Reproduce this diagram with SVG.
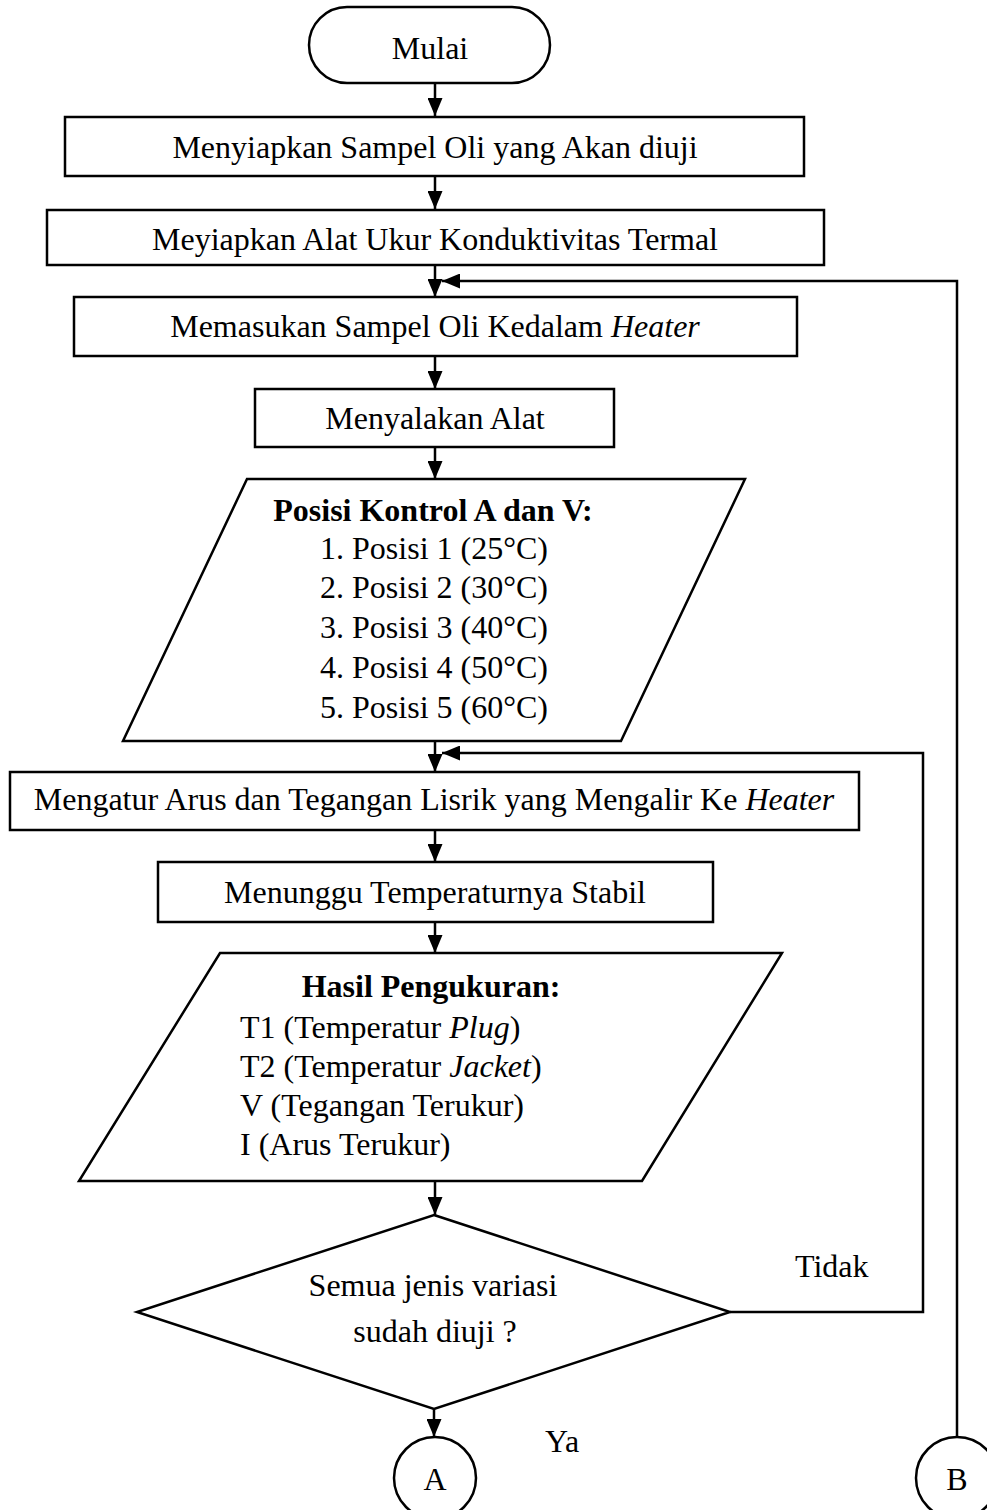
<svg xmlns="http://www.w3.org/2000/svg" width="987" height="1510" viewBox="0 0 987 1510">
<defs>
<style>
.s{fill:#fff;stroke:#000;stroke-width:2.5}
.c{fill:none;stroke:#000;stroke-width:2.5}
text{font-family:"Liberation Serif","Times New Roman",serif;font-size:32px;fill:#000}
.m{text-anchor:middle}
.b{font-weight:bold}
.i{font-style:italic}
</style>
<marker id="ah" viewBox="0 0 18 15" refX="18" refY="7.5" markerWidth="18" markerHeight="15" markerUnits="userSpaceOnUse" orient="auto">
<path d="M0,0 L18,7.5 L0,15 z" fill="#000"/>
</marker>
</defs>
<rect width="987" height="1510" fill="#fff"/>
<g id="connectors">
<line class="c" x1="435" y1="83" x2="435" y2="116" marker-end="url(#ah)"/>
<line class="c" x1="435" y1="176" x2="435" y2="209" marker-end="url(#ah)"/>
<line class="c" x1="435" y1="265" x2="435" y2="297" marker-end="url(#ah)"/>
<line class="c" x1="435" y1="356" x2="435" y2="389" marker-end="url(#ah)"/>
<line class="c" x1="435" y1="447" x2="435" y2="479" marker-end="url(#ah)"/>
<line class="c" x1="435" y1="741" x2="435" y2="772" marker-end="url(#ah)"/>
<line class="c" x1="435" y1="830" x2="435" y2="862" marker-end="url(#ah)"/>
<line class="c" x1="435" y1="922" x2="435" y2="953" marker-end="url(#ah)"/>
<line class="c" x1="435" y1="1181" x2="435" y2="1215" marker-end="url(#ah)"/>
<line class="c" x1="434" y1="1409" x2="434" y2="1437" marker-end="url(#ah)"/>
<polyline class="c" points="957,1437 957,281 442,281" marker-end="url(#ah)"/>
<polyline class="c" points="730,1312 923,1312 923,753 442,753" marker-end="url(#ah)"/>
<text x="795" y="1277">Tidak</text>
<text x="545" y="1452">Ya</text>
</g>
<g id="start">
<rect class="s" x="309" y="7" width="241" height="76" rx="38" ry="38"/>
<text class="m" x="430" y="59">Mulai</text>
</g>
<g id="step1">
<rect class="s" x="65" y="117" width="739" height="59"/>
<text class="m" x="435" y="158">Menyiapkan Sampel Oli yang Akan diuji</text>
</g>
<g id="step2">
<rect class="s" x="47" y="210" width="777" height="55"/>
<text class="m" x="435" y="250">Meyiapkan Alat Ukur Konduktivitas Termal</text>
</g>
<g id="step3">
<rect class="s" x="74" y="297" width="723" height="59"/>
<text class="m" x="435" y="337">Memasukan Sampel Oli Kedalam <tspan class="i">Heater</tspan></text>
</g>
<g id="step4">
<rect class="s" x="255" y="389" width="359" height="58"/>
<text class="m" x="435" y="429">Menyalakan Alat</text>
</g>
<g id="input1">
<polygon class="s" points="247,479 745,479 621,741 123,741"/>
<text class="m b" x="433" y="521">Posisi Kontrol A dan V:</text>
<text class="m" x="434" y="559">1. Posisi 1 (25°C)</text>
<text class="m" x="434" y="598">2. Posisi 2 (30°C)</text>
<text class="m" x="434" y="638">3. Posisi 3 (40°C)</text>
<text class="m" x="434" y="678">4. Posisi 4 (50°C)</text>
<text class="m" x="434" y="718">5. Posisi 5 (60°C)</text>
</g>
<g id="step5">
<rect class="s" x="10" y="772" width="849" height="58"/>
<text class="m" x="434" y="810">Mengatur Arus dan Tegangan Lisrik yang Mengalir Ke <tspan class="i">Heater</tspan></text>
</g>
<g id="step6">
<rect class="s" x="158" y="862" width="555" height="60"/>
<text class="m" x="435" y="903">Menunggu Temperaturnya Stabil</text>
</g>
<g id="output1">
<polygon class="s" points="220,953 782,953 642,1181 79,1181"/>
<text class="m b" x="431" y="997">Hasil Pengukuran:</text>
<text x="240" y="1038">T1 (Temperatur <tspan class="i">Plug</tspan>)</text>
<text x="240" y="1077">T2 (Temperatur <tspan class="i">Jacket</tspan>)</text>
<text x="240" y="1116">V (Tegangan Terukur)</text>
<text x="240" y="1155">I (Arus Terukur)</text>
</g>
<g id="decision">
<polygon class="s" points="434,1215 730,1312 434,1409 137,1312"/>
<text class="m" x="433" y="1296">Semua jenis variasi</text>
<text class="m" x="435" y="1342"> sudah diuji ?</text>
</g>
<g id="connA">
<circle class="s" cx="435" cy="1478" r="41"/>
<text class="m" x="435" y="1490">A</text>
</g>
<g id="connB">
<circle class="s" cx="957" cy="1478" r="41"/>
<text class="m" x="957" y="1490">B</text>
</g>
</svg>
